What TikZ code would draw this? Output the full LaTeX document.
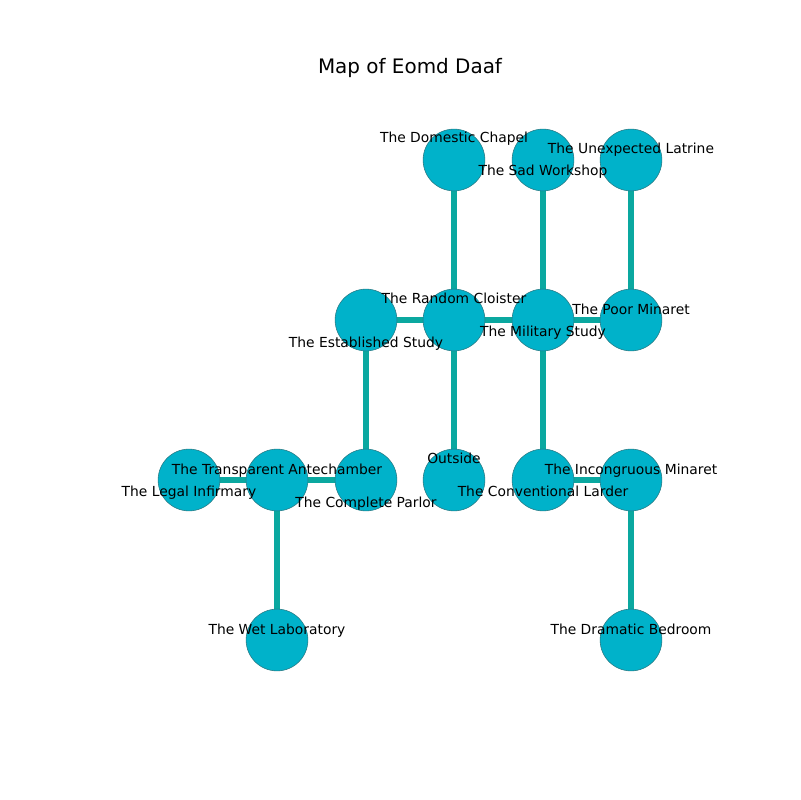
\documentclass[tikz,border=0pt]{standalone}
\usepackage{fontspec}
\setmainfont{DejaVu Sans}
\definecolor{nodefill}{RGB}{0,178,202}
\definecolor{nodeline}{RGB}{40,120,130}
\definecolor{edgecol}{RGB}{10,168,160}
\pgfdeclarelayer{bg}
\pgfsetlayers{bg,main}
\begin{document}
\begin{tikzpicture}[x=0.01in,y=-0.01in,
  room/.style={circle,fill=nodefill,draw=nodeline,line width=0.4pt,minimum size=62*0.72pt,inner sep=0pt},
  lbl/.style={anchor=base,inner sep=0pt,font=\fontsize{10}{12}\selectfont},
  link/.style={draw=edgecol,line width=3.7pt}]
\useasboundingbox (0,0) rectangle (800,800);
\node[anchor=base,inner sep=0pt,font=\fontsize{14.4}{17}\selectfont] (title) at (410,74) {Map of Eomd Daaf};
% rooms
\node[room] (chapel) at (454,160) {};
\node[room] (sad) at (543,160) {};
\node[room] (latrine) at (631,160) {};
\node[room] (established) at (366,320) {};
\node[room] (cloister) at (454,320) {};
\node[room] (military) at (543,320) {};
\node[room] (poor) at (631,320) {};
\node[room] (legal) at (189,480) {};
\node[room] (trans) at (277,480) {};
\node[room] (parlor) at (366,480) {};
\node[room] (outside) at (454,480) {};
\node[room] (larder) at (543,480) {};
\node[room] (incong) at (631,480) {};
\node[room] (wet) at (277,640) {};
\node[room] (bedroom) at (631,640) {};
% edges behind nodes
\begin{pgfonlayer}{bg}
\path[link] (chapel.center) -- (cloister.center);
\path[link] (sad.center) -- (military.center);
\path[link] (latrine.center) -- (poor.center);
\path[link] (established.center) -- (cloister.center);
\path[link] (cloister.center) -- (military.center);
\path[link] (military.center) -- (poor.center);
\path[link] (established.center) -- (parlor.center);
\path[link] (cloister.center) -- (outside.center);
\path[link] (military.center) -- (larder.center);
\path[link] (legal.center) -- (trans.center);
\path[link] (trans.center) -- (parlor.center);
\path[link] (trans.center) -- (wet.center);
\path[link] (larder.center) -- (incong.center);
\path[link] (incong.center) -- (bedroom.center);
\end{pgfonlayer}
% labels
\node[lbl] (lchapel) at (454,143) {The Domestic Chapel};
\node[lbl] (lsad) at (543,176) {The Sad Workshop};
\node[lbl] (llatrine) at (631,154) {The Unexpected Latrine};
\node[lbl] (lcloister) at (454,303) {The Random Cloister};
\node[lbl] (lestablished) at (366,347) {The Established Study};
\node[lbl] (lmilitary) at (543,336) {The Military Study};
\node[lbl] (lpoor) at (631,314) {The Poor Minaret};
\node[lbl] (llegal) at (189,496) {The Legal Infirmary};
\node[lbl] (ltrans) at (277,474) {The Transparent Antechamber};
\node[lbl] (lparlor) at (366,507) {The Complete Parlor};
\node[lbl] (loutside) at (454,463) {Outside};
\node[lbl] (llarder) at (543,496) {The Conventional Larder};
\node[lbl] (lincong) at (631,474) {The Incongruous Minaret};
\node[lbl] (lwet) at (277,634) {The Wet Laboratory};
\node[lbl] (lbedroom) at (631,634) {The Dramatic Bedroom};
\end{tikzpicture}
\end{document}
